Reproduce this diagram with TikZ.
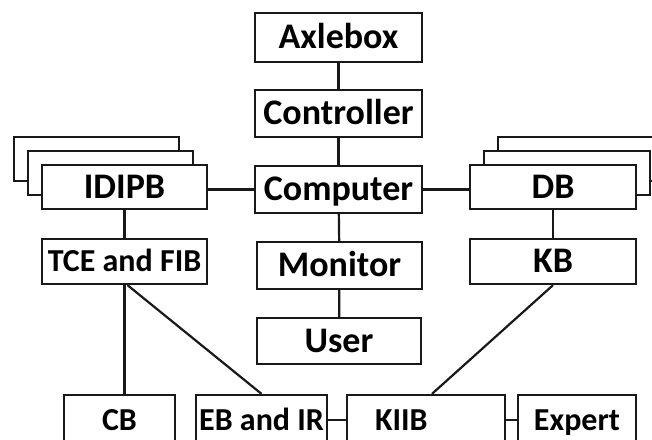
\documentclass[tikz,border=0pt]{standalone}
\usepackage{fontspec}
\setmainfont{Carlito}
\usetikzlibrary{calc}
\definecolor{ink}{RGB}{25,25,25}
\tikzset{
  box/.style={draw=ink,fill=white,line width=2.3pt,inner sep=0pt,align=center,
    minimum width=#1,text height=25pt,text depth=3pt,
    font=\bfseries\fontsize{36}{36}\selectfont},
  box/.default=166pt,
  small box/.style={box=#1,text height=23pt,text depth=3pt,
    font=\bfseries\fontsize{32}{32}\selectfont},
  small box/.default=166pt,
  link/.style={draw=ink,line width=2.2pt},
}
\begin{document}
\begin{tikzpicture}[x=1pt,y=-1pt]
  \useasboundingbox (0,0) rectangle (652,439);
  \clip (0,0) rectangle (652,439);
  % stacked copies behind the two store boxes
  \foreach \k in {2,1}
  {
    \node[box=165pt,minimum height=44pt] (idipb\k) at (124.5-14*\k,187-14*\k) {};
    \node[box=166pt,minimum height=44pt] (db\k) at (553+14*\k,187-14*\k) {};
  }
  % centre column
  \node[box=167pt,minimum height=49pt] (axle) at (338.5,37.5) {Axlebox};
  \node[box=167pt,minimum height=47pt] (ctrl) at (338.5,113.5) {Controller};
  \node[box=167pt,minimum height=47pt] (comp) at (338.5,189.5) {Computer};
  \node[box=165pt,minimum height=47pt] (mon) at (339.5,265.5) {Monitor};
  \node[box=164pt,minimum height=46pt] (user) at (339,341) {User};
  % side columns
  \node[box=165pt,minimum height=44pt] (idipb) at (124.5,187) {IDIPB};
  \node[small box=165pt,minimum height=45pt] (tce) at (124.5,261.5) {TCE and FIB};
  \node[box=166pt,minimum height=44pt] (db) at (553,187) {DB};
  \node[box=166pt,minimum height=45pt] (kb) at (553,261.5) {KB};
  % bottom row
  \node[small box=111pt,minimum height=50pt] (cb) at (119.5,420) {CB};
  \node[small box=131pt,minimum height=50pt] (eb) at (261.5,420) {EB and IR};
  \node[small box=158pt,minimum height=50pt,text width=150pt,align=left] (kiib) at (426,420) {\hspace*{24pt}KIIB};
  \node[small box=118pt,minimum height=50pt] (expert) at (577,420) {Expert};

  \draw[link] (axle) -- (ctrl);
  \draw[link] (ctrl) -- (comp);
  \draw[link] (comp) -- (mon);
  \draw[link] (mon) -- (user);
  \draw[link] (comp.west) -- (comp.west -| idipb.east);
  \draw[link] (comp.east) -- (comp.east -| db.west);
  \draw[link] (idipb) -- (tce);
  \draw[link] (db) -- (kb);
  \draw[link] (tce.south) -- (tce.south |- cb.north);
  \draw[link] ([xshift=3pt]tce.south) -- (eb.north);
  \draw[link] (kb.south) -- ([xshift=6pt]kiib.north);
  \draw[link] (eb.east) -- (kiib.west);
  \draw[link] (kiib.east) -- (expert.west);
\end{tikzpicture}
\end{document}
